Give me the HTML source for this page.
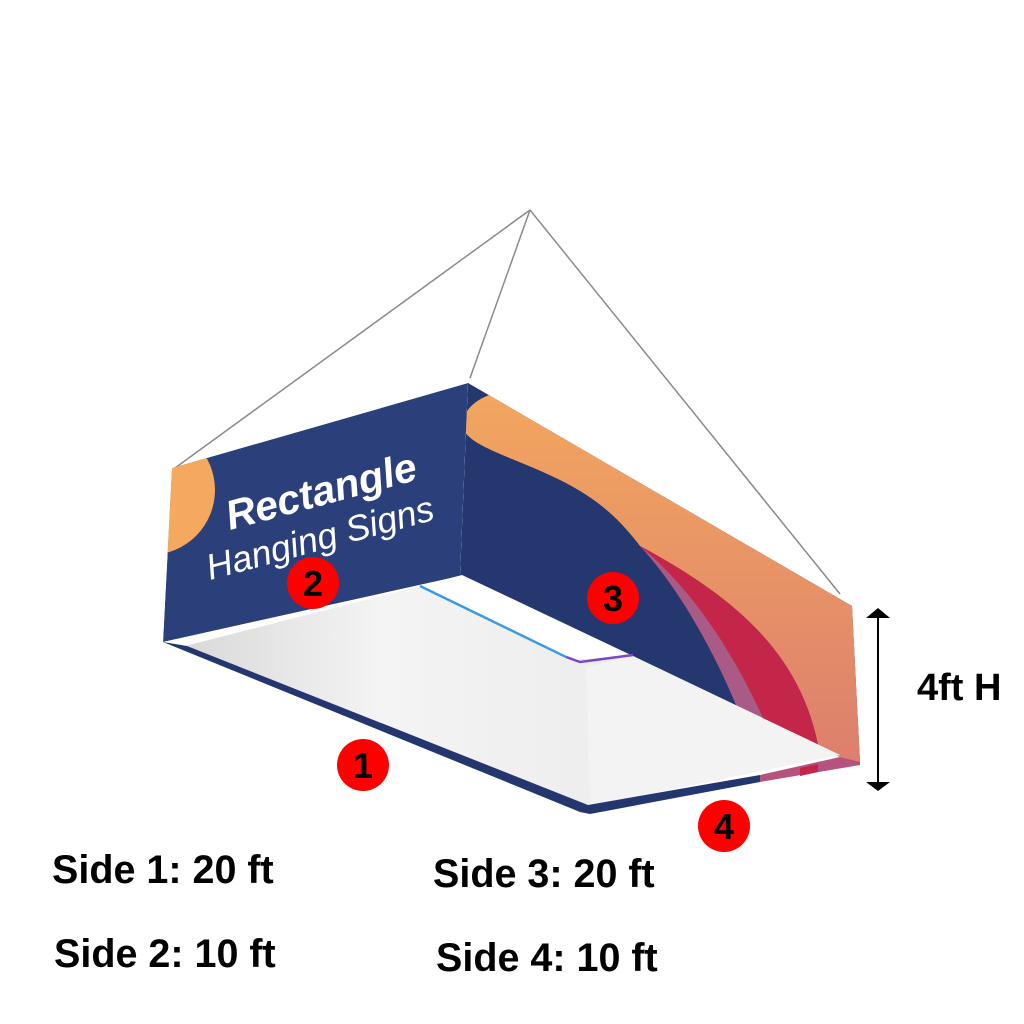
<!DOCTYPE html>
<html><head><style>
body{margin:0;background:#fff;}
svg{display:block}
</style></head><body>
<svg width="1024" height="1024" viewBox="0 0 1024 1024" xmlns="http://www.w3.org/2000/svg">
<defs>
<linearGradient id="wg" x1="0" y1="0" x2="1" y2="0">
<stop offset="0" stop-color="#d9d9d9"/><stop offset="0.3" stop-color="#f4f4f4"/><stop offset="1" stop-color="#e6e6e6"/>
</linearGradient>
<linearGradient id="og" x1="0" y1="0" x2="0" y2="1">
<stop offset="0" stop-color="#f4a95e"/><stop offset="1" stop-color="#dc7e6e"/>
</linearGradient>
<clipPath id="c2"><polygon points="172,468 468,383 460,576 163,642"/></clipPath>
<clipPath id="c3"><polygon points="468,383 852,606 860,762 840,757 633,657 460,576"/></clipPath>
</defs>
<g stroke="#8a8a8a" stroke-width="1.5" fill="none">
<line x1="530" y1="210" x2="175" y2="468"/>
<line x1="530" y1="210" x2="470" y2="378"/>
<line x1="530" y1="210" x2="840" y2="594"/>
</g>
<!-- face 3 -->
<g clip-path="url(#c3)">
<rect x="440" y="370" width="440" height="420" fill="#24376f"/>
<path d="M500,392 C470,398 458,418 465,432 C475,448 520,460 560,480 C600,500 620,520 640,546 C740,600 810,660 822,770 L880,770 L880,370 Z" fill="url(#og)"/>
<path d="M640,546 C740,600 810,660 822,770 L760,770 C735,690 690,600 640,546 Z" fill="#c4264a"/>
<path d="M640,546 C705,600 750,680 785,770 L760,770 C735,690 690,600 640,546 Z" fill="#a95b86"/>
</g>
<!-- face 2 -->
<g clip-path="url(#c2)">
<polygon points="172,468 468,383 460,576 163,642" fill="#2b3f7b"/>
<circle cx="150" cy="490" r="65" fill="#f4a95e"/>
</g>
<text x="0" y="0" transform="translate(230,530) rotate(-15)" font-family="Liberation Sans, sans-serif" font-weight="bold" font-style="italic" font-size="41" fill="#fff">Rectangle</text>
<text x="0" y="0" transform="translate(210,580) rotate(-15)" font-family="Liberation Sans, sans-serif" font-style="italic" font-size="36" fill="#fff">Hanging Signs</text>
<!-- hole white -->
<polygon points="420,586 462,575 633,656 568,660" fill="#fff"/>
<!-- white interior -->
<polygon points="185,646 420,586 568,660 633,656 840,755 588,806" fill="url(#wg)"/>
<polygon points="586,667 633,656 840,755 590,806" fill="#f3f3f3"/>
<line x1="420" y1="586" x2="566" y2="657" stroke="#3a9be0" stroke-width="2.5"/>
<polyline points="566,657 580,662 633,655" stroke="#7a45c8" stroke-width="2.5" fill="none"/>
<!-- bottom strip -->
<polygon points="163,642 187,646 588,805 760,775 760,782 590,814 580,812" fill="#24366e"/>
<polygon points="760,775 840,757 860,762 860,765 760,782" fill="#b5527e"/>
<polygon points="800,768 818,764 818,772 800,776" fill="#c4264a"/>
<!-- circles -->
<g font-family="Liberation Sans, sans-serif" font-weight="bold" font-size="36" text-anchor="middle" fill="#000">
<circle cx="363" cy="765" r="26" fill="#f00"/><text x="363" y="778">1</text>
<circle cx="313" cy="583" r="26" fill="#f00"/><text x="313" y="596">2</text>
<circle cx="613" cy="598" r="26" fill="#f00"/><text x="613" y="611">3</text>
<circle cx="724" cy="826" r="26" fill="#f00"/><text x="724" y="839">4</text>
</g>
<!-- dimension arrow -->
<line x1="878" y1="615" x2="878" y2="783" stroke="#000" stroke-width="2"/>
<polygon points="866,618 878,608 890,618" fill="#000"/>
<polygon points="866,782 878,791 890,782" fill="#000"/>
<g font-family="Liberation Sans, sans-serif" font-weight="bold" fill="#000">
<text x="917" y="700" font-size="38">4ft H</text>
<text x="52" y="883" font-size="39.5">Side 1: 20 ft</text>
<text x="54" y="967" font-size="39.5">Side 2: 10 ft</text>
<text x="433" y="887" font-size="39.5">Side 3: 20 ft</text>
<text x="436" y="971" font-size="39.5">Side 4: 10 ft</text>
</g>
</svg>
</body></html>
